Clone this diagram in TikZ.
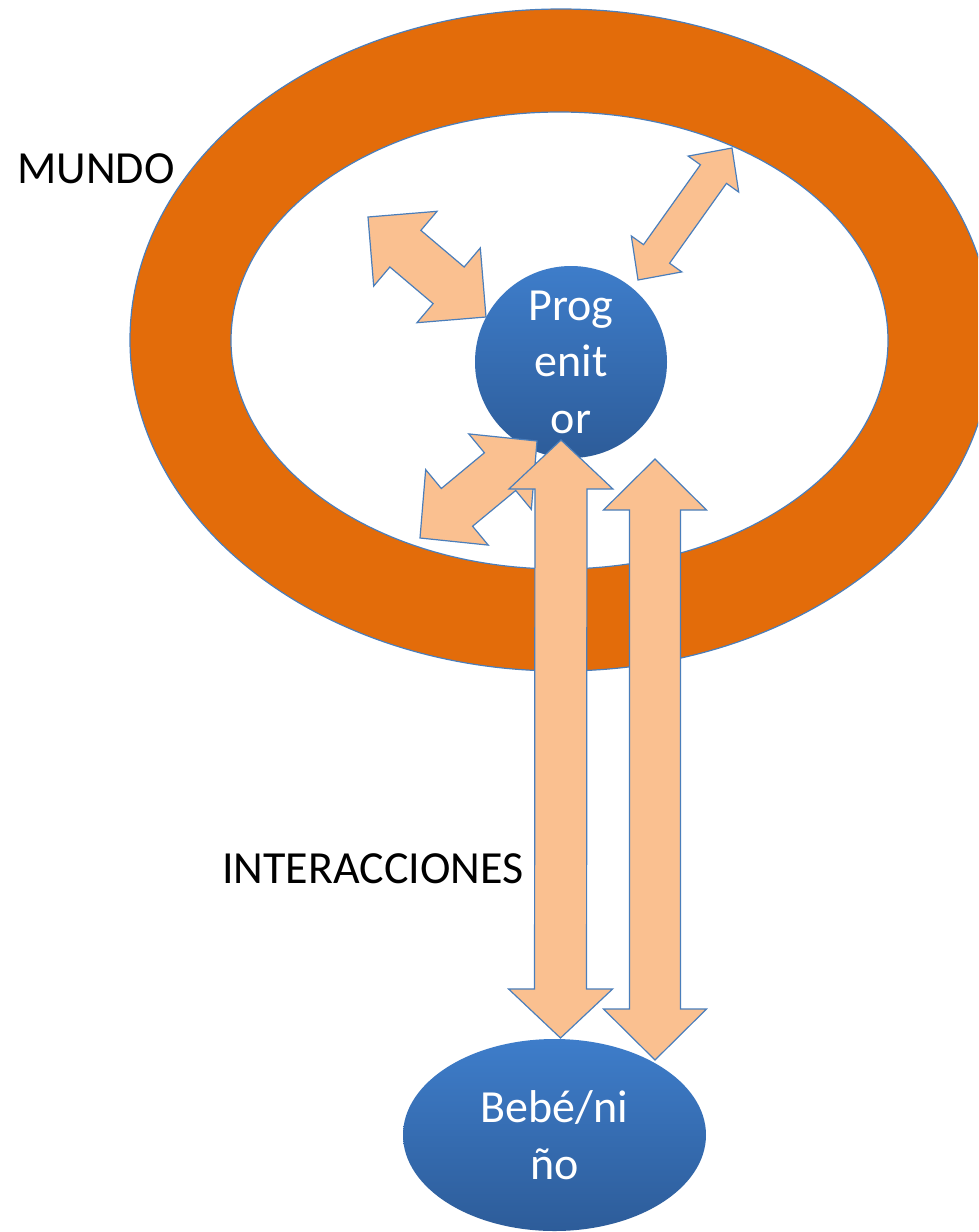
\documentclass[tikz,border=0pt]{standalone}
\usepackage{fontspec}
\setmainfont{Carlito}
\usepackage{xcolor}
\usepackage{tikz}
\usetikzlibrary{positioning,calc,shapes.geometric}

\definecolor{ringorange}{HTML}{E36C0A}
\definecolor{edgeblue}{HTML}{4A7EBB}
\definecolor{peach}{HTML}{FAC090}
\definecolor{ballhi}{HTML}{3E7DCA}
\definecolor{balllo}{HTML}{2D5C99}

\tikzset{
  ring/.style={ellipse, fill=ringorange, draw=edgeblue, line width=1.2pt, inner sep=0pt},
  hole/.style={ellipse, fill=white, draw=edgeblue, line width=1.2pt, inner sep=0pt},
  bluenode/.style={top color=ballhi, bottom color=balllo, draw=none, text=white,
    align=center, inner sep=0pt, font=\fontsize{46pt}{56.5pt}\selectfont},
  bigtext/.style={font=\fontsize{46pt}{56.5pt}\selectfont, inner sep=0pt},
  blockarrow/.style={fill=peach, draw=edgeblue, line width=1.2pt, line join=miter}
}

% tip, tip, half shaft, half head, head length
\newcommand{\dblarrow}[5]{%
  \path[blockarrow] let \p1=(#1), \p2=(#2), \n1={atan2(\y2-\y1,\x2-\x1)} in
    (\p1) -- ($(\p1)+(\n1:#5)+(\n1+90:#4)$) -- ($(\p1)+(\n1:#5)+(\n1+90:#3)$)
    -- ($(\p2)+(\n1:-#5)+(\n1+90:#3)$) -- ($(\p2)+(\n1:-#5)+(\n1+90:#4)$)
    -- (\p2) -- ($(\p2)+(\n1:-#5)+(\n1-90:#4)$) -- ($(\p2)+(\n1:-#5)+(\n1-90:#3)$)
    -- ($(\p1)+(\n1:#5)+(\n1-90:#3)$) -- ($(\p1)+(\n1:#5)+(\n1-90:#4)$) -- cycle;}

\begin{document}
\begin{tikzpicture}[x=1pt,y=-1pt]
    \useasboundingbox (0,0) rectangle (978,1232);
    \clip (0,0) rectangle (978,1232);

    % mundo
    \node[ring, minimum width=862pt, minimum height=662pt] (mundo) at (561,340) {};
    \node[hole, minimum width=657pt, minimum height=457pt] (hueco) at (559.5,340.5) {};
    \node[bigtext, anchor=base west] (mundolabel) at (17,183) {MUNDO};

    % progenitor y bebe
    \node[bluenode, circle, minimum size=192pt] (prog) at (571,362) {Prog\\enit\\or};
    \node[bluenode, ellipse, minimum width=303pt, minimum height=192pt] (bebe) at (554.5,1135) {Bebé/ni\\ño};

    % flechas pequenas
    \coordinate (a1) at (368,217);
    \coordinate (a1p) at (486,317);
    \coordinate (a2) at (732,148);
    \coordinate (a2p) at (638,280);
    \coordinate (a3) at (420,538);
    \coordinate (a3p) at (537,441);
    \dblarrow{a1}{a1p}{24pt}{49pt}{49pt}
    \dblarrow{a2}{a2p}{16pt}{31pt}{32pt}
    \dblarrow{a3}{a3p}{24.5pt}{49pt}{48pt}

    % interacciones
    \coordinate (p1) at (561,440);
    \coordinate (b1) at (560.5,1038);
    \coordinate (p2) at (655,459);
    \coordinate (b2) at (655,1060);
    \dblarrow{p1}{b1}{26pt}{52pt}{49pt}
    \dblarrow{p2}{b2}{25.5pt}{51.5pt}{51pt}

    \node[bigtext, anchor=base west] (inter) at (222,883) {INTERACCIONES};
\end{tikzpicture}
\end{document}
